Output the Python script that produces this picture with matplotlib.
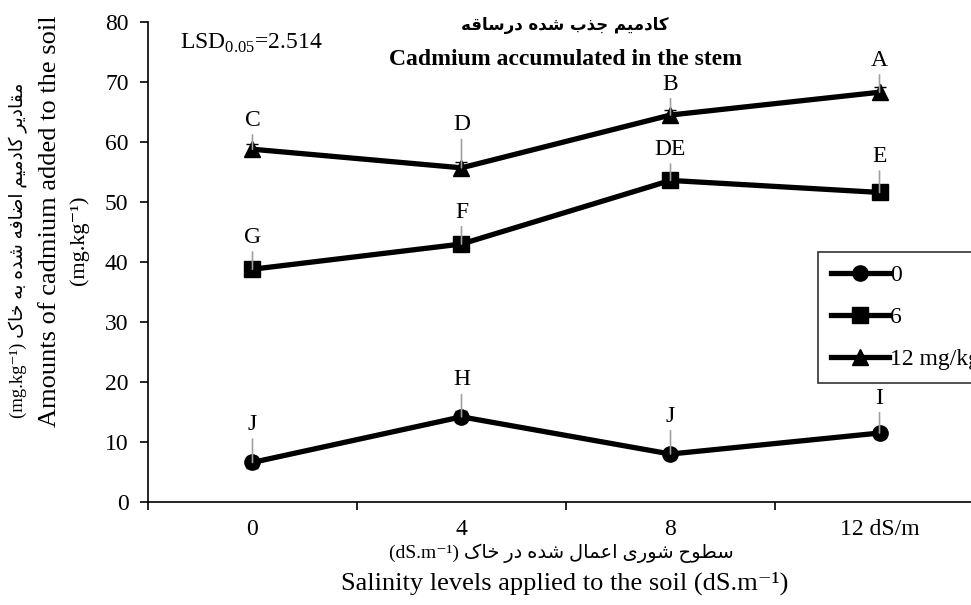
import matplotlib.pyplot as plt
import numpy as np

# salinity levels on the x axis and the three cadmium treatments
salinity = ['0', '4', '8', '12 dS/m']
cd_0 = [6.6, 14.2, 8.0, 11.5]
cd_6 = [38.8, 43.0, 53.6, 51.6]
cd_12 = [58.8, 55.7, 64.5, 68.3]
err_0 = [0.9, 0.9, 0.9, 0.9]
err_6 = [0.9, 0.9, 0.9, 0.9]
err_12 = [0.9, 0.9, 0.9, 0.9]
letters_0 = ['J', 'H', 'J', 'I']
letters_6 = ['G', 'F', 'DE', 'E']
letters_12 = ['C', 'D', 'B', 'A']
series_names = ['0', '6', '12 mg/kg']

# --- minimal Persian shaping (presentation forms) so the text joins properly ---
FORMS = {
    '\u0627': (0xFE8D, 0xFE8E), '\u062F': (0xFEA9, 0xFEAA), '\u0630': (0xFEAB, 0xFEAC),
    '\u0631': (0xFEAD, 0xFEAE), '\u0632': (0xFEAF, 0xFEB0), '\u0648': (0xFEED, 0xFEEE),
    '\u0628': (0xFE8F, 0xFE90, 0xFE91, 0xFE92), '\u062A': (0xFE95, 0xFE96, 0xFE97, 0xFE98),
    '\u062C': (0xFE9D, 0xFE9E, 0xFE9F, 0xFEA0), '\u062D': (0xFEA1, 0xFEA2, 0xFEA3, 0xFEA4),
    '\u062E': (0xFEA5, 0xFEA6, 0xFEA7, 0xFEA8), '\u0633': (0xFEB1, 0xFEB2, 0xFEB3, 0xFEB4),
    '\u0634': (0xFEB5, 0xFEB6, 0xFEB7, 0xFEB8), '\u0636': (0xFEBD, 0xFEBE, 0xFEBF, 0xFEC0),
    '\u0637': (0xFEC1, 0xFEC2, 0xFEC3, 0xFEC4), '\u0639': (0xFEC9, 0xFECA, 0xFECB, 0xFECC),
    '\u0641': (0xFED1, 0xFED2, 0xFED3, 0xFED4), '\u0642': (0xFED5, 0xFED6, 0xFED7, 0xFED8),
    '\u0644': (0xFEDD, 0xFEDE, 0xFEDF, 0xFEE0), '\u0645': (0xFEE1, 0xFEE2, 0xFEE3, 0xFEE4),
    '\u0647': (0xFEE9, 0xFEEA, 0xFEEB, 0xFEEC), '\u06A9': (0xFB8E, 0xFB8F, 0xFB90, 0xFB91),
    '\u06CC': (0xFBFC, 0xFBFD, 0xFBFE, 0xFBFF),
}


def fa(text):
    out = []
    for i, ch in enumerate(text):
        if ch not in FORMS:
            out.append(ch)
            continue
        prev = text[i - 1] if i > 0 else ''
        nxt = text[i + 1] if i + 1 < len(text) else ''
        jp = prev in FORMS and len(FORMS[prev]) == 4
        jn = len(FORMS[ch]) == 4 and nxt in FORMS
        f = FORMS[ch]
        if jp and jn:
            out.append(chr(f[3]))
        elif jp:
            out.append(chr(f[1]))
        elif jn:
            out.append(chr(f[2]))
        else:
            out.append(chr(f[0]))
    return ''.join(out)[::-1]


serif = ['Liberation Serif', 'DejaVu Serif']
farsi = ['DejaVu Sans']
plt.rcParams['font.family'] = serif
plt.rcParams['mathtext.fontset'] = 'custom'
plt.rcParams['mathtext.rm'] = 'Liberation Serif'

fig = plt.figure(figsize=(9.71, 6.05), dpi=100)
ax = fig.add_axes([0.1524, 0.1702, 0.861, 0.7934])

x = np.arange(len(salinity))
markers = ['o', 's', '^']
sizes = [11, 11, 12]
data = [cd_0, cd_6, cd_12]
errs = [err_0, err_6, err_12]
letters = [letters_0, letters_6, letters_12]
# pixel distance from each point up to the centre of its letter
offsets = [[38, 37, 38, 35], [32, 32, 31, 36], [29, 43, 31, 32]]

handles = []
for vals, er, mk, ms, name in zip(data, errs, markers, sizes, series_names):
    ax.errorbar(x, vals, yerr=er, fmt='none', ecolor='black', elinewidth=1,
                capsize=4, zorder=2)
    h, = ax.plot(x, vals, color='black', lw=3.8, marker=mk, ms=ms,
                 mec='black', mfc='black', label=name, zorder=3)
    handles.append(h)

for vals, labs, offs in zip(data, letters, offsets):
    for xi, v, lab, off in zip(x, vals, labs, offs):
        ax.annotate(lab, xy=(xi, v), xytext=(0, off), textcoords='offset pixels',
                    ha='center', va='center', fontsize=17, zorder=4,
                    arrowprops=dict(arrowstyle='-', color='#a0a0a0', lw=1.2,
                                    shrinkA=1, shrinkB=0))

ax.set_xlim(-0.5, 3.5)
ax.set_ylim(0, 80)
ax.set_yticks(np.arange(0, 81, 10))
ax.set_xticks(x)
ax.set_xticklabels(salinity)
ax.set_xticks(np.arange(-0.5, 3.6, 1), minor=True)
ax.tick_params(axis='x', which='major', length=0, pad=12, labelsize=17)
ax.tick_params(axis='x', which='minor', length=6, width=1.2, direction='out')
ax.tick_params(axis='y', length=6, width=1.2, direction='out', labelsize=17, pad=8)
for s in ['top', 'right']:
    ax.spines[s].set_visible(False)
for s in ['left', 'bottom']:
    ax.spines[s].set_linewidth(1.2)

ax.text(0.038, 0.955, 'LSD$_{\\mathregular{0.05}}$=2.514', transform=ax.transAxes,
        fontsize=17, va='center', ha='left')

# titles
fig.text(0.582, 0.959, fa('کادمیم جذب شده درساقه'), family=farsi,
         fontweight='bold', fontsize=12, ha='center', va='center')
fig.text(0.582, 0.901, 'Cadmium accumulated in the stem', fontweight='bold',
         fontsize=17, ha='center', va='center')

# axis titles
fig.text(0.578, 0.086, '(dS.m\u207b\u00b9) ' + fa('سطوح شوری اعمال شده در خاک'),
         family=['Liberation Serif', 'DejaVu Sans'], fontsize=14,
         ha='center', va='center')
fig.text(0.582, 0.036, 'Salinity levels applied to the soil (dS.m\u207b\u00b9)',
         fontsize=19, ha='center', va='center')
fig.text(0.019, 0.587, '(mg.kg\u207b\u00b9) ' + fa('مقادیر کادمیم اضافه شده به خاک'),
         family=['Liberation Serif', 'DejaVu Sans'], fontsize=13.5, rotation=90,
         ha='center', va='center')
fig.text(0.051, 0.635, 'Amounts of cadmium added to the soil', fontsize=19,
         rotation=90, ha='center', va='center')
fig.text(0.081, 0.603, '(mg.kg\u207b\u00b9)', fontsize=16, rotation=90,
         ha='center', va='center')

leg = ax.legend(handles=handles, loc='upper left',
                bbox_to_anchor=(0.8424, 0.5835), bbox_transform=fig.transFigure,
                fontsize=17, frameon=True, fancybox=False, edgecolor='black',
                handlelength=2.45, handletextpad=0.05, labelspacing=0.86,
                borderpad=0.55, borderaxespad=0)
leg.get_frame().set_linewidth(1.2)

fig.savefig('out.png', dpi=100)
